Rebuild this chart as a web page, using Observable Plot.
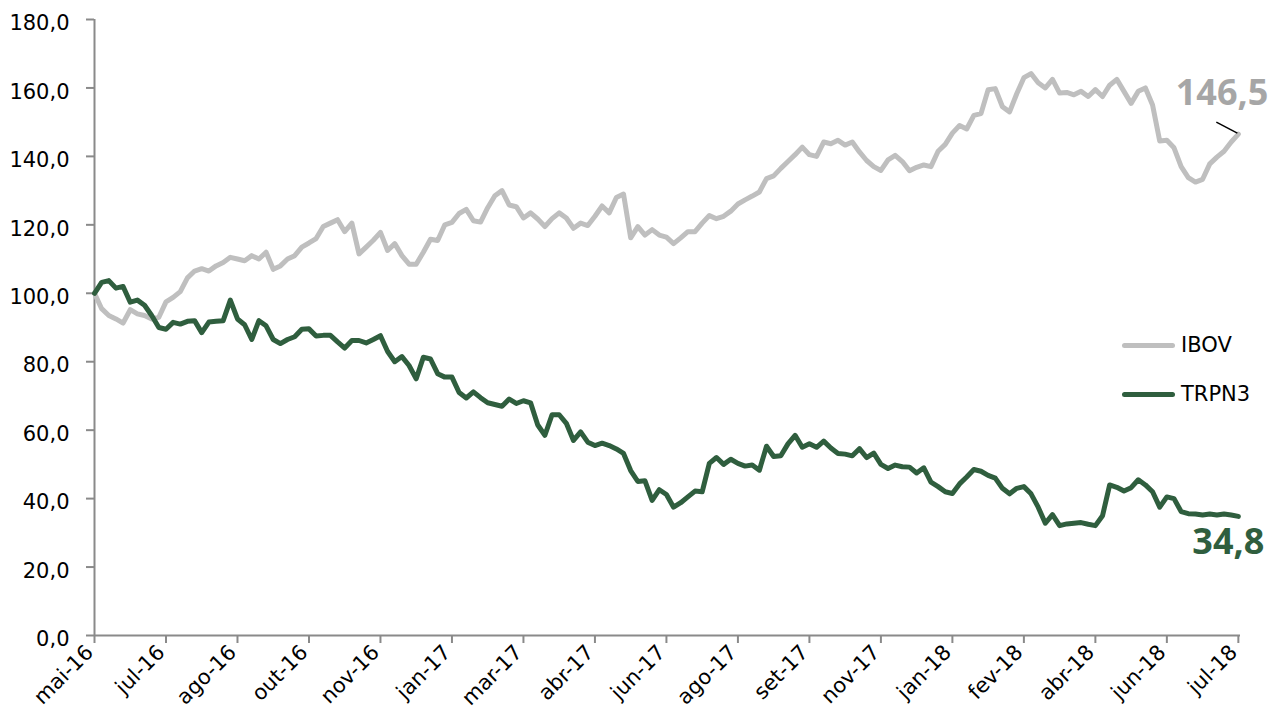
<!DOCTYPE html>
<html><head><meta charset="utf-8">
<script src="https://cdn.jsdelivr.net/npm/d3@7"></script>
<script src="https://cdn.jsdelivr.net/npm/@observablehq/plot@0.6"></script>
<style>
html,body{margin:0;padding:0;background:#fff;}
#wrap{position:relative;width:1280px;height:724px;overflow:hidden;}
.item{position:absolute;left:1122px;height:26px;display:flex;align-items:center;white-space:nowrap;font-family:"DejaVu Sans";font-size:21px;color:#000;}
.sw{width:53px;height:5px;border-radius:3px;margin-right:6px;}
</style></head><body><div id="wrap"></div>
<script>
// ---- data ----
const xLabels = ["mai-16","jul-16","ago-16","out-16","nov-16","jan-17","mar-17","abr-17","jun-17","ago-17","set-17","nov-17","jan-18","fev-18","abr-18","jun-18","jul-18"];
const pointsPerTick = 10;
const yTicks = [0,20,40,60,80,100,120,140,160,180];
const seriesNames = ["IBOV","TRPN3"];
const ibov = [
100,95.5,93.5,92.5,91.3,95.2,94,93.5,92.5,93,
97.5,98.8,100.5,104.5,106.5,107.2,106.5,108,109,110.5,
110,109.5,111,110,112,107,108,110,111,113.5,
114.7,116,119.5,120.5,121.5,118,120.5,111.5,113.5,115.5,
117.8,112.5,114.5,111,108.5,108.5,112,115.8,115.4,120,
120.7,123.3,124.5,121.2,120.8,125,128.5,130,125.8,125.3,
122,123.5,121.7,119.5,121.8,123.5,122,119,120.5,119.8,
122.5,125.5,123.5,128,129,116.2,119.5,117,118.6,117,
116.4,114.5,116.2,118,118,120.5,122.7,121.8,122.5,124,
126.1,127.3,128.4,129.6,133.5,134.3,136.5,138.5,140.5,142.7,
140.5,140,144.2,143.7,144.7,143.3,144.2,141.3,138.8,137,
135.9,139,140.3,138.5,135.8,136.8,137.5,137,141.5,143.5,
146.8,149,148,152,152.5,159.5,159.8,154.5,153,158.3,
163,164.2,161.5,160,162.5,158.5,158.7,158,159,157.5,
159.5,157.5,160.8,162.5,159,155.5,159,160,155,144.5,
144.7,142.5,137,133.8,132.5,133.3,137.8,139.8,141.5,144.2,
146.5];
const trpn3 = [
100,103.2,103.7,101.5,102,97.4,98,96.5,93.5,90,
89.5,91.5,91,91.8,92,88.5,91.6,91.8,92,98,
92.5,90.8,86.5,92,90.5,86.5,85.3,86.5,87.3,89.5,
89.6,87.5,87.7,87.7,85.8,84,86.2,86.2,85.5,86.5,
87.6,83,80,81.5,78.9,75,81.3,80.8,76.5,75.5,
75.5,71,69.4,71.2,69.5,68,67.5,67,69.1,67.8,
68.6,68,61.5,58.5,64.5,64.5,62,57,59.5,56.5,
55.5,56.2,55.5,54.5,53.2,48.2,45,45.2,39.5,42.6,
41.2,37.5,38.8,40.5,42.2,42,50.3,52,50,51.5,
50.3,49.5,49.8,48.3,55.3,52.3,52.5,56,58.5,55,
56,55,56.8,54.8,53.2,53,52.5,54.6,52,53.3,
50,48.8,49.8,49.3,49.2,47.5,49,44.8,43.5,42,
41.5,44.3,46.3,48.5,48,46.8,46,43,41.4,43,
43.5,41.4,37.5,32.8,35.3,32.1,32.6,32.8,33,32.5,
32.1,35,44,43.3,42.2,43.2,45.5,44,42,37.5,
40.5,40,36.2,35.6,35.5,35.2,35.5,35.2,35.5,35.2,
34.8];

// ---- styles ----
const grayC = "#bfbfbf", greenC = "#2f5e3e", axisC = "#8a8a8a";
const fmt = v => v.toFixed(1).replace(".", ",");

const tickIdx = xLabels.map((_, i) => i * pointsPerTick);
const labelOf = new Map(tickIdx.map((t, i) => [t, xLabels[i]]));
const ibovRows = ibov.map((v, i) => ({i, v}));
const trpnRows = trpn3.map((v, i) => ({i, v}));
const lastI = ibov.length - 1;
const ibovLast = [{i: lastI, v: ibov[lastI]}];
const trpnLast = [{i: lastI, v: trpn3[lastI]}];

const chart = Plot.plot({
  width: 1280, height: 724,
  marginLeft: 94, marginRight: 40, marginTop: 19, marginBottom: 89,
  style: {fontFamily: "DejaVu Sans", background: "#fff", overflow: "visible"},
  x: {domain: [0, lastI + 0.3], axis: null},
  y: {domain: [0, 180], axis: null},
  marks: [
    Plot.axisY({ticks: yTicks, tickSize: 8, tickFormat: () => "", label: null, stroke: axisC, strokeWidth: 2}),
    Plot.text(yTicks, {y: d => d, frameAnchor: "left", text: fmt, textAnchor: "end", dx: -25, dy: 4, fontSize: 21, fill: "#000"}),
    Plot.axisX({ticks: tickIdx, tickSize: 8, tickFormat: () => "", label: null, stroke: axisC, strokeWidth: 2}),
    Plot.text(tickIdx, {x: d => d, frameAnchor: "bottom", text: d => labelOf.get(d), rotate: -45, textAnchor: "end", dx: 0, dy: 18, fontSize: 21, fill: "#000"}),
    Plot.ruleX([0], {stroke: axisC, strokeWidth: 2}),
    Plot.ruleY([0], {stroke: axisC, strokeWidth: 2}),
    Plot.line(ibovRows, {x: "i", y: "v", stroke: grayC, strokeWidth: 5, strokeLinejoin: "round", strokeLinecap: "round"}),
    Plot.line(trpnRows, {x: "i", y: "v", stroke: greenC, strokeWidth: 5, strokeLinejoin: "round", strokeLinecap: "round"}),
    Plot.link(ibovLast, {x1: d => d.i - 0.14, y1: d => d.v + 0.3, x2: d => d.i - 3.08, y2: d => d.v + 3.5, stroke: "#000", strokeWidth: 1.5}),
    Plot.text(ibovLast, {x: "i", y: "v", text: d => fmt(d.v), textAnchor: "end", dx: 30, dy: -41, fontFamily: "Open Sans", fontWeight: "bold", fontSize: 36, fill: "#a6a6a6"}),
    Plot.text(trpnLast, {x: "i", y: "v", text: d => fmt(d.v), textAnchor: "end", dx: 26, dy: 26, fontFamily: "Open Sans", fontWeight: "bold", fontSize: 36, fill: greenC})
  ]
});

const wrap = document.getElementById("wrap");
wrap.appendChild(chart);
const legendColors = [grayC, greenC];
const legendTops = [332, 381];
seriesNames.forEach((name, k) => {
  const it = document.createElement("div");
  it.className = "item";
  it.style.top = legendTops[k] + "px";
  const sw = document.createElement("span");
  sw.className = "sw";
  sw.style.background = legendColors[k];
  const tx = document.createElement("span");
  tx.textContent = name;
  it.appendChild(sw); it.appendChild(tx);
  wrap.appendChild(it);
});
</script>
</body></html>
